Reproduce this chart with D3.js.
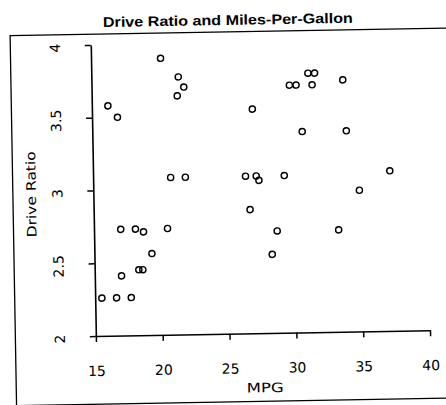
<!DOCTYPE html>
<html lang="en">
    <head>
        <meta charset="utf-8" />
        <title>Drive Ratio and Miles-Per-Gallon</title>
        <style>
            body { margin: 0; background: #fff; }
            svg text { fill: #000; font-family: "DejaVu Sans", sans-serif; }
            .title { font: bold 14px "Liberation Sans", Arial, sans-serif; text-anchor: middle; }
            .tick text { font-size: 14px; }
            .lab { font-size: 13px; text-anchor: middle; }
        </style>
        <script src="https://cdn.jsdelivr.net/npm/d3@7"></script>
    </head>
    <body>
        <script>
            // mpg and drive ratio (38 cars)
            var mpg = [20.2, 21.5, 21.9, 21.4, 16.2, 16.9, 20.8, 21.9, 17.0, 18.1,
                       18.7, 20.5, 19.3, 18.3, 18.6, 17.0, 15.5, 16.6, 17.7,
                       31.2, 31.7, 29.8, 30.3, 31.5, 33.8, 27.0, 30.7, 34.0, 37.2,
                       26.4, 27.2, 27.4, 29.3, 34.9, 26.7, 28.7, 33.3, 28.3];
            var ratio = [3.90, 3.77, 3.70, 3.64, 3.58, 3.50, 3.08, 3.08, 2.73, 2.73,
                         2.71, 2.73, 2.56, 2.45, 2.45, 2.41, 2.26, 2.26, 2.26,
                         3.78, 3.78, 3.70, 3.70, 3.70, 3.73, 3.54, 3.38, 3.38, 3.10,
                         3.08, 3.08, 3.05, 3.08, 2.97, 2.85, 2.70, 2.70, 2.54];
            var xTicks = [15, 20, 25, 30, 35, 40];
            var yTicks = [2, 2.5, 3, 3.5, 4];

            var width = 446, height = 405;

            var svg = d3.select('body').append('svg')
                .attr('width', width)
                .attr('height', height);

            // the scan is tilted a little, so everything sits in a rotated group
            var g = svg.append('g').attr('transform', 'rotate(-1, 223, 200)');

            var x = d3.scaleLinear().domain([15, 40]).range([93.5, 427.7]);
            var y = d3.scaleLinear().domain([2, 4]).range([333.8, 42.7]);

            // outer frame
            g.append('rect')
                .attr('x', 13).attr('y', 32)
                .attr('width', 460).attr('height', 370)
                .attr('fill', 'none').attr('stroke', '#000').attr('stroke-width', 1.3);

            g.append('text').attr('class', 'title')
                .attr('x', 231).attr('y', 25)
                .attr('textLength', 250).attr('lengthAdjust', 'spacingAndGlyphs')
                .text('Drive Ratio and Miles-Per-Gallon');

            var xAxis = g.append('g')
                .attr('transform', 'translate(0,' + y(2) + ')')
                .call(d3.axisBottom(x).tickValues(xTicks).tickSize(6).tickSizeOuter(0).tickPadding(24)
                    .tickFormat(d3.format('d')));

            var yAxis = g.append('g')
                .attr('transform', 'translate(' + x(15) + ',0)')
                .call(d3.axisLeft(y).tickValues(yTicks).tickSize(6).tickSizeOuter(0)
                    .tickFormat(function(d) { return d; }));

            yAxis.selectAll('.tick text')
                .attr('x', null).attr('dy', null)
                .attr('text-anchor', 'middle')
                .attr('transform', 'translate(-31,2) rotate(-90)');

            [xAxis, yAxis].forEach(function(a) {
                a.select('.domain').attr('stroke-width', 1.6);
                a.selectAll('.tick line').attr('stroke-width', 1.5);
                a.attr('font-family', null).attr('font-size', null);
            });

            g.append('text').attr('class', 'lab')
                .attr('x', 262).attr('y', 393)
                .attr('textLength', 37).attr('lengthAdjust', 'spacingAndGlyphs')
                .text('MPG');

            g.append('text').attr('class', 'lab')
                .attr('transform', 'translate(36,191) rotate(-90)')
                .attr('textLength', 86).attr('lengthAdjust', 'spacingAndGlyphs')
                .text('Drive Ratio');

            g.selectAll('circle.pt')
                .data(mpg)
                .enter()
                .append('circle')
                .attr('class', 'pt')
                .attr('cx', function(d) { return x(d); })
                .attr('cy', function(d, i) { return y(ratio[i]); })
                .attr('r', 3.1)
                .attr('fill', 'none')
                .attr('stroke', '#000')
                .attr('stroke-width', 1.4);
        </script>
    </body>
</html>
